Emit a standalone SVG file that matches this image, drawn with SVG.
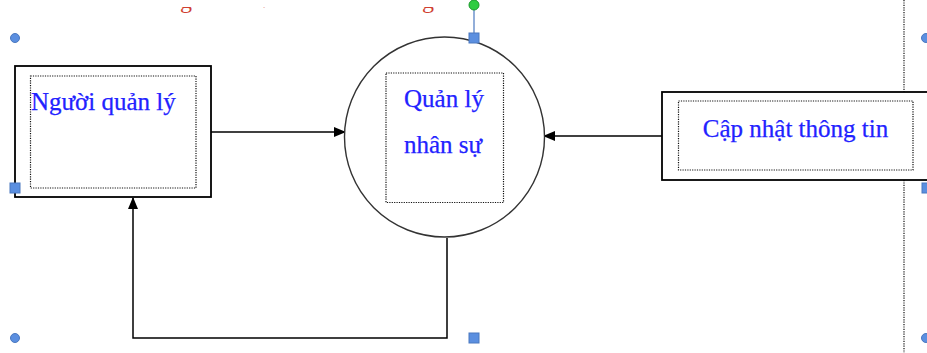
<svg xmlns="http://www.w3.org/2000/svg" width="927" height="353" viewBox="0 0 927 353">
<style>
.box{fill:#fff;stroke:#000;stroke-width:1.8}
.dot{fill:none;stroke:#111;stroke-width:1.2;stroke-dasharray:1.2 1.2}
.lbl{font-family:"Liberation Serif","Times New Roman",serif;font-size:25px;fill:#2222ff;stroke:#2222ff;stroke-width:0.25}
.red{font-family:"Liberation Serif","Times New Roman",serif;font-size:24px;fill:#d04030}
.con{fill:none;stroke:#000;stroke-width:1.5}
.hc{fill:#5b8fe0;stroke:#4a78c0;stroke-width:1}
</style>
<defs>
<marker id="arr" markerWidth="12" markerHeight="10" refX="11" refY="5" orient="auto" markerUnits="userSpaceOnUse">
<path d="M0,0 L12,5 L0,10 Z" fill="#000"/>
</marker>
<clipPath id="topclip"><rect x="0" y="7" width="927" height="20"/></clipPath>
</defs>
<rect width="927" height="353" fill="#fff"/>
<g id="heading-fragments" clip-path="url(#topclip)">
<text class="red" x="180" y="7.5">g</text>
<text class="red" x="258" y="4">ụ</text>
<text class="red" x="422" y="7.5">g</text>
</g>
<line x1="904" y1="0" x2="904" y2="353" stroke="#111" stroke-width="1.2" stroke-dasharray="1.2 1.2"/>
<g id="connectors">
<line class="con" x1="211" y1="132" x2="345" y2="132" marker-end="url(#arr)"/>
<line class="con" x1="662" y1="136" x2="544" y2="136" marker-end="url(#arr)"/>
<polyline class="con" points="447,238 447,338 133,338 133,198" marker-end="url(#arr)"/>
</g>
<g id="nguoi-quan-ly">
<rect class="box" x="15" y="66" width="196" height="131"/>
<rect class="dot" x="30.5" y="76" width="165.5" height="112"/>
<text class="lbl" x="31" y="110">Người quản lý</text>
</g>
<g id="quan-ly-nhan-su">
<circle cx="444.5" cy="137" r="100" fill="#fff" stroke="#333" stroke-width="1.4"/>
<rect class="dot" x="386" y="73" width="117.5" height="129.5"/>
<text class="lbl" x="444" y="107" text-anchor="middle">Quản lý</text>
<text class="lbl" x="443" y="153" text-anchor="middle">nhân sự</text>
</g>
<g id="cap-nhat-thong-tin">
<rect class="box" x="662" y="92" width="275" height="88"/>
<rect class="dot" x="678.5" y="101" width="234.5" height="69"/>
<text class="lbl" x="795.5" y="137" text-anchor="middle">Cập nhật thông tin</text>
</g>
<g id="handles">
<circle class="hc" cx="15" cy="38" r="4.5"/>
<rect class="hc" x="10" y="183" width="10" height="10"/>
<circle class="hc" cx="15" cy="338" r="4.5"/>
<line x1="474" y1="8" x2="474" y2="33" stroke="#4a78c0" stroke-width="1.2"/>
<circle cx="474" cy="5" r="5" fill="#2ecc40" stroke="#1a9a2a" stroke-width="1"/>
<rect class="hc" x="469" y="33" width="10" height="10"/>
<rect class="hc" x="469" y="333" width="10" height="10"/>
<circle class="hc" cx="926" cy="38" r="4.5"/>
<rect class="hc" x="922" y="183" width="10" height="10"/>
<circle class="hc" cx="926" cy="338" r="4.5"/>
</g>
</svg>
